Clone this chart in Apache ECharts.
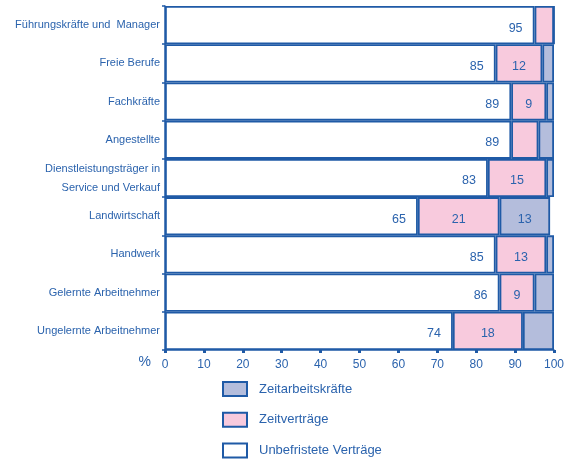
<!DOCTYPE html>
<html>
<head>
<meta charset="utf-8">
<script src="https://cdn.jsdelivr.net/npm/echarts@6/dist/echarts.min.js"></script>
<style>
  html, body { margin: 0; padding: 0; background: #fff; }
  #chart { width: 567px; height: 462px; }
</style>
</head>
<body>
<div id="chart"></div>
<script>
// Employment groups, top to bottom
const categories = [
  'Führungskräfte und  Manager',
  'Freie Berufe',
  'Fachkräfte',
  'Angestellte',
  'Dienstleistungsträger in\nService und Verkauf',
  'Landwirtschaft',
  'Handwerk',
  'Gelernte Arbeitnehmer',
  'Ungelernte Arbeitnehmer'
];
// Shares in percent per contract type
const unbefristet = [95, 85, 89, 89, 83, 65, 85, 86, 74];
const zeitvertraege = [5, 12, 9, 7, 15, 21, 13, 9, 18];
const zeitarbeit = [0, 3, 2, 4, 2, 13, 2, 5, 8];
// Which segments carry a value label
const showZeitvertragLabel = [false, true, true, false, true, true, true, true, true];
const showZeitarbeitLabel = [false, false, false, false, false, true, false, false, false];

const INK = '#1f5aa6';
const TEXT = '#2b63ad';
const PINK = '#f8cadd';
const LILAC = '#b4bddc';
const FONT = 'Liberation Sans, Arial, sans-serif';

function withLabels(values, flags) {
  return values.map((v, i) => ({
    value: v,
    label: { show: flags ? flags[i] : true }
  }));
}

const barStyle = (color) => ({ color: color, borderColor: INK, borderWidth: 1.8 });
const labelBase = { color: TEXT, fontSize: 12.5, fontFamily: FONT, offset: [0, 3] };

const chart = echarts.init(document.getElementById('chart'));
chart.setOption({
  animation: false,
  textStyle: { fontFamily: FONT },
  grid: { left: 165, right: 13, top: 6, bottom: 112, containLabel: false, outerBoundsMode: 'none' },
  legend: {
    orient: 'vertical',
    left: 222,
    top: 381,
    padding: 0,
    height: 90,
    icon: 'rect',
    itemWidth: 24,
    itemHeight: 14,
    itemGap: 14.7,
    data: ['Zeitarbeitskräfte', 'Zeitverträge', 'Unbefristete Verträge'],
    textStyle: { color: TEXT, fontSize: 13, fontFamily: FONT, padding: [0, 0, 0, 7] },
    selectedMode: false
  },
  xAxis: {
    type: 'value',
    min: 0,
    max: 100,
    interval: 10,
    name: '%',
    nameLocation: 'start',
    nameGap: 14,
    nameTextStyle: { color: TEXT, fontSize: 14, fontFamily: FONT, verticalAlign: 'top', padding: [5, 0, 0, 0] },
    axisLine: { show: true, lineStyle: { color: INK, width: 1.5 } },
    axisTick: { show: true, inside: false, length: 3, lineStyle: { color: INK, width: 3 } },
    axisLabel: { color: TEXT, fontSize: 12, fontFamily: FONT, margin: 9 },
    splitLine: { show: false }
  },
  yAxis: {
    type: 'category',
    data: categories,
    inverse: true,
    axisLine: { show: true, lineStyle: { color: INK, width: 1.5 } },
    axisTick: { show: true, length: 3, lineStyle: { color: INK, width: 1.5 } },
    axisLabel: { color: TEXT, fontSize: 11, fontFamily: FONT, margin: 5, lineHeight: 19, align: 'right' }
  },
  series: [
    {
      name: 'Unbefristete Verträge',
      type: 'bar',
      stack: 'total',
      barCategoryGap: 0,
      itemStyle: barStyle('#ffffff'),
      label: Object.assign({ position: 'insideRight', distance: 12 }, labelBase),
      data: withLabels(unbefristet, null)
    },
    {
      name: 'Zeitverträge',
      type: 'bar',
      stack: 'total',
      barCategoryGap: 0,
      itemStyle: barStyle(PINK),
      label: Object.assign({ position: 'inside' }, labelBase),
      data: withLabels(zeitvertraege, showZeitvertragLabel)
    },
    {
      name: 'Zeitarbeitskräfte',
      type: 'bar',
      stack: 'total',
      barCategoryGap: 0,
      itemStyle: barStyle(LILAC),
      label: Object.assign({ position: 'inside' }, labelBase),
      data: withLabels(zeitarbeit, showZeitarbeitLabel)
    }
  ]
});
</script>
</body>
</html>
